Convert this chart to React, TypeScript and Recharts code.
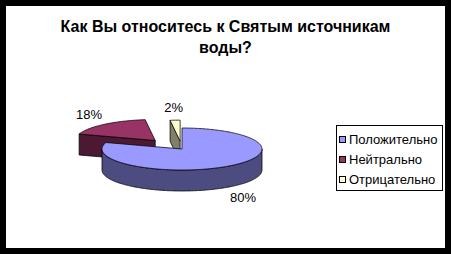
import React from "react";
import { PieChart, Pie, Legend } from "recharts";

// survey answers, legend order
const titleLines = ["Как Вы относитесь к Святым источникам", "воды?"];
const categories = ["Положительно", "Нейтрально", "Отрицательно"];
const values = [80, 18, 2];
const topColors = ["#9999FF", "#993366", "#FFFFCC"];
const sideColors = ["#4C4C80", "#4C1933", "#80806A"];
// explosion distance (px) of each slice, like Excel's "point explosion"
const explode = [0, 42, 30];
// back slices first so the big front slice covers them
const drawOrder = [1, 2, 0];

const FONT = "'Liberation Sans', Arial, sans-serif";
const TILT = 0.2625;
const DEPTH = 21;
const RAD = Math.PI / 180;

const total = values.reduce((s, v) => s + v, 0);
const firstStart = 90 + (360 * (total - values[0])) / total;

const pieData = drawOrder.map((i) => ({
  name: categories[i],
  value: values[i],
  idx: i,
}));

const sliceIndex = (p: any): number => p?.payload?.idx ?? p?.idx ?? 0;

function Slice3D(props: any) {
  const { cx, cy, outerRadius: r, startAngle: a0, endAngle: a1 } = props;
  const i = sliceIndex(props);
  const mid = ((a0 + a1) / 2) * RAD;
  const ox = explode[i] * Math.cos(mid);
  const oy = -explode[i] * Math.sin(mid) * TILT;
  const c: [number, number] = [cx + ox, cy + oy];
  const pt = (a: number): [number, number] => [
    c[0] + r * Math.cos(a * RAD),
    c[1] - r * TILT * Math.sin(a * RAD),
  ];

  // sampled angles, including the half-turn breakpoints
  const hi = Math.max(a0, a1);
  const lo = Math.min(a0, a1);
  const set = new Set<number>();
  for (let a = hi; a > lo; a -= 1) set.add(a);
  set.add(lo);
  for (let k = Math.ceil(lo / 180); k * 180 <= hi; k++) set.add(k * 180);
  const angles = Array.from(set).sort((a, b) => b - a);

  const fmt = (p: [number, number]) => `${p[0].toFixed(2)},${p[1].toFixed(2)}`;
  const down = (p: [number, number]): [number, number] => [p[0], p[1] + DEPTH];

  const top = `M${fmt(c)} ` + angles.map((a) => `L${fmt(pt(a))}`).join(" ") + " Z";

  // front part of the outer wall
  const walls: string[] = [];
  let run: number[] = [];
  const flush = () => {
    if (run.length > 1) {
      const upper = run.map((a) => pt(a));
      const lower = run.map((a) => down(pt(a))).reverse();
      walls.push("M" + [...upper, ...lower].map(fmt).join(" L") + " Z");
    }
    run = [];
  };
  angles.forEach((a) => {
    if (Math.sin(a * RAD) <= 1e-9) run.push(a);
    else flush();
  });
  flush();

  // cut faces that turn towards the viewer
  const faces: string[] = [];
  const face = (a: number) => {
    const p = pt(a);
    faces.push(`M${fmt(c)} L${fmt(p)} L${fmt(down(p))} L${fmt(down(c))} Z`);
  };
  if (Math.sin((hi + 90) * RAD) < 0) face(hi);
  if (Math.sin((lo - 90) * RAD) < 0) face(lo);

  const line = { stroke: "#000", strokeWidth: 0.75, strokeLinejoin: "round" as const };
  return (
    <g>
      {faces.map((d, k) => (
        <path key={"f" + k} d={d} fill={sideColors[i]} {...line} />
      ))}
      {walls.map((d, k) => (
        <path key={"w" + k} d={d} fill={sideColors[i]} {...line} />
      ))}
      <path d={top} fill={topColors[i]} {...line} />
    </g>
  );
}

function PctLabel(props: any) {
  const { cx, cy, midAngle, outerRadius: r } = props;
  const i = sliceIndex(props);
  const m = midAngle * RAD;
  const d = explode[i];
  const x = cx + (d + r + 24) * Math.cos(m);
  let y = cy - (d * TILT + r * TILT + 13) * Math.sin(m);
  if (Math.sin(m) < 0) y += DEPTH;
  return (
    <text x={x} y={y} textAnchor="middle" dominantBaseline="central" fontSize={13} fontFamily={FONT} fill="#000">
      {values[i]}%
    </text>
  );
}

function LegendBox() {
  return (
    <div
      style={{
        border: "1px solid #000",
        background: "#fff",
        width: 105,
        height: 61,
        boxSizing: "content-box",
        paddingTop: 3,
        fontFamily: FONT,
        fontSize: 13,
        color: "#000",
      }}
    >
      {categories.map((name, i) => (
        <div key={name} style={{ height: 20, display: "flex", alignItems: "center", whiteSpace: "nowrap" }}>
          <span
            style={{
              display: "inline-block",
              width: 5,
              height: 5,
              border: "1px solid #000",
              background: topColors[i],
              marginLeft: 2,
              marginRight: 3,
            }}
          />
          {name}
        </div>
      ))}
    </div>
  );
}

export default function App() {
  return (
    <div style={{ position: "absolute", left: 0, top: 0, width: 451, height: 254, background: "#000" }}>
      <div style={{ position: "absolute", left: 6, top: 6, width: 439, height: 242, background: "#fff" }}>
        <div
          style={{
            position: "absolute",
            left: 0,
            top: 10,
            width: 439,
            textAlign: "center",
            fontFamily: FONT,
            fontWeight: "bold",
            fontSize: 16,
            lineHeight: "21px",
            color: "#000",
          }}
        >
          {titleLines.map((t) => (
            <div key={t}>{t}</div>
          ))}
        </div>
        <PieChart width={439} height={242} margin={{ top: 0, right: 0, bottom: 0, left: 0 }}>
          <Pie
            data={pieData}
            dataKey="value"
            nameKey="name"
            cx={176}
            cy={143}
            outerRadius={80}
            startAngle={firstStart}
            endAngle={firstStart - 360}
            shape={Slice3D}
            label={PctLabel}
            labelLine={false}
            isAnimationActive={false}
            stroke="#000"
          />
          <Legend
            content={() => <LegendBox />}
            wrapperStyle={{ position: "absolute", left: 330, top: 119, width: 107, height: 66 }}
          />
        </PieChart>
      </div>
    </div>
  );
}
